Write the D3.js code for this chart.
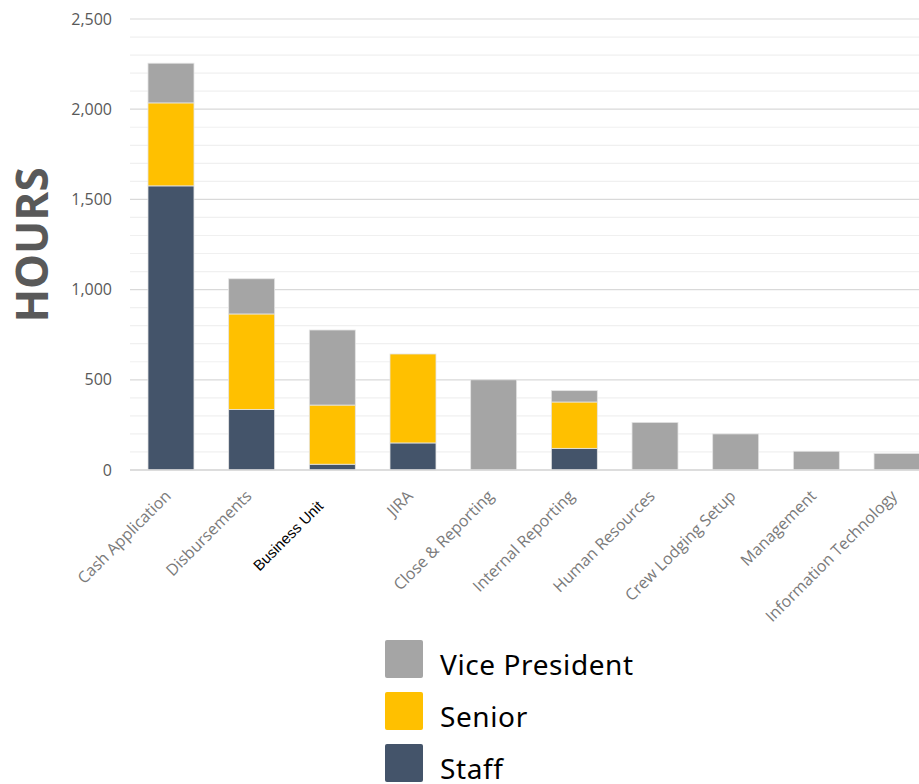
<!DOCTYPE html>
<html><head><meta charset="utf-8">
<script src="https://cdn.jsdelivr.net/npm/d3@7"></script>
<style>html,body{margin:0;padding:0;background:#fff;overflow:hidden}</style>
</head><body>
<svg id="chart" width="919" height="784"></svg>
<script>
const categories = ["Cash Application","Disbursements","Business Unit","JIRA","Close & Reporting","Internal Reporting","Human Resources","Crew Lodging Setup","Management","Information Technology"];
const staff  = [1575, 335, 32, 150, 0, 120, 0, 0, 0, 0];
const senior = [460, 530, 328, 493, 0, 257, 0, 0, 0, 0];
const vicePresident = [220, 195, 416, 0, 500, 63, 264, 200, 104, 92];
const seriesNames = ["Staff","Senior","Vice President"];
const seriesColors = ["#44546A","#FFC000","#A5A5A5"];
const yTicks = [0, 500, 1000, 1500, 2000, 2500];
const minorTicks = d3.range(0, 2501, 100);

const svg = d3.select("#chart");
const m = {left:130, top:19, bottom:470};
const x = d3.scaleBand().domain(categories).range([m.left, m.left + 808]).paddingInner(0.43).paddingOuter(0.223);
const y = d3.scaleLinear().domain([0, 2500]).range([m.bottom, m.top]);

// gridlines
svg.append("g").selectAll("line").data(minorTicks).join("line")
  .attr("x1", m.left).attr("x2", 919)
  .attr("y1", d => y(d)).attr("y2", d => y(d))
  .attr("stroke", d => d % 500 === 0 ? "#d9d9d9" : "#f0f0f0")
  .attr("stroke-width", 1.2);

// y axis labels
const yAxis = d3.axisLeft(y).tickValues(yTicks).tickFormat(d3.format(",")).tickSize(0).tickPadding(18);
const ya = svg.append("g").attr("transform", `translate(${m.left},0)`).call(yAxis);
ya.select(".domain").remove();
ya.selectAll("text").attr("font-family","Open Sans").attr("font-size","16px").attr("fill","#595959");

// stacked bars
const rows = categories.map((c,i) => ({cat:c, "Staff":staff[i], "Senior":senior[i], "Vice President":vicePresident[i]}));
const stacked = d3.stack().keys(seriesNames)(rows);
svg.append("g").selectAll("g").data(stacked).join("g")
  .attr("fill", (d,i) => seriesColors[i])
  .selectAll("rect").data(d => d.filter(s => s[1] - s[0] > 0)).join("rect")
  .attr("x", d => x(d.data.cat))
  .attr("width", x.bandwidth())
  .attr("y", d => y(d[1]))
  .attr("height", d => y(d[0]) - y(d[1]))
  .attr("stroke", "#e4e4e4").attr("stroke-width", 0.8);

// baseline
svg.append("line").attr("x1", m.left).attr("x2", 919).attr("y1", y(0)).attr("y2", y(0))
  .attr("stroke","#d9d9d9").attr("stroke-width",1.5);

// x labels
svg.append("g").selectAll("text").data(categories).join("text")
  .attr("transform", d => d === "Business Unit"
      ? `translate(${x(d) + x.bandwidth()/2 - 8},${y(0) + 37}) rotate(-45)`
      : `translate(${x(d) + x.bandwidth()/2 + 1},${y(0) + 27}) rotate(-45)`)
  .attr("text-anchor","end")
  .attr("font-family", d => d === "Business Unit" ? "Liberation Sans" : "Open Sans")
  .attr("font-size", d => d === "Business Unit" ? "15px" : "16px")
  .attr("fill", d => d === "Business Unit" ? "#000" : "#7a7a7a")
  .text(d => d);

// y title
svg.append("text").attr("transform","translate(48,245) rotate(-90)")
  .attr("text-anchor","middle").attr("font-family","Open Sans").attr("font-weight","bold")
  .attr("font-size","44px").attr("fill","#595959").text("HOURS");

// legend
const legendOrder = [2,1,0];
const lg = svg.append("g").selectAll("g").data(legendOrder).join("g")
  .attr("transform", (d,i) => `translate(385,${640 + i*52})`);
lg.append("rect").attr("width",38).attr("height",38).attr("rx",2).attr("fill", d => seriesColors[d]);
lg.append("text").attr("x",55).attr("y",35).attr("font-family","Noto Sans").attr("font-size","28px")
  .attr("letter-spacing","0.6px").attr("fill","#000").text(d => seriesNames[d]);
</script>
</body></html>
